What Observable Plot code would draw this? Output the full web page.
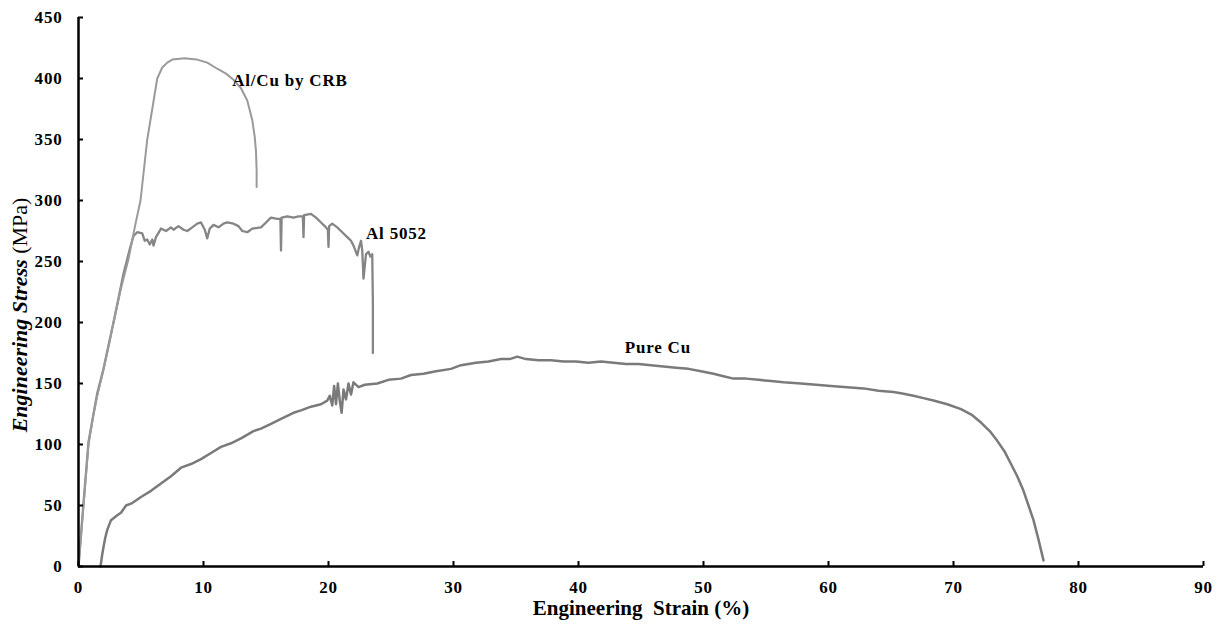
<!DOCTYPE html>
<html><head><meta charset="utf-8">
<script src="https://cdn.jsdelivr.net/npm/d3@7"></script>
<script src="https://cdn.jsdelivr.net/npm/@observablehq/plot@0.6"></script>
<style>body{margin:0;background:#fff}</style>
</head><body><div id="chart"></div>
<script>
// [strain %, stress MPa]
const alCu = [[0,0],[0.4,50],[0.8,100],[1.2,125],[1.5,140],[1.9,157],[2.4,180],[2.8,200],[3.4,228],[4.0,252],[4.5,278],[4.96,300],[5.5,350],[5.9,375],[6.3,400],[6.7,409],[7.1,413],[7.5,415.5],[7.9,416],[8.5,416.5],[9.0,416],[9.5,415.5],[10.3,413],[11.1,408],[11.8,404],[12.4,399],[13.0,392],[13.5,382],[13.9,366],[14.1,352],[14.2,340],[14.25,325],[14.25,311]];
const al5052 = [[0,0],[0.4,52],[0.8,102],[1.5,142],[2.0,162],[2.9,205],[3.6,240],[4.1,260],[4.4,271],[4.7,274],[5.1,273],[5.3,267],[5.5,268],[5.7,264],[5.9,268],[6.0,263],[6.2,270],[6.6,277],[7.0,275],[7.4,278],[7.6,276],[8.0,279],[8.4,276],[8.7,275],[9.1,278],[9.5,281],[9.8,282],[10.1,276],[10.3,269],[10.5,277],[10.8,280],[11.2,278],[11.6,281],[11.9,282],[12.4,281],[12.8,279],[13.1,275],[13.5,274],[13.9,277],[14.6,278],[15.0,282],[15.4,286],[15.9,285],[16.15,285],[16.2,259],[16.25,286],[16.7,287],[17.2,286],[17.6,287],[17.95,287],[18.0,270],[18.05,288],[18.6,289],[19.0,286],[19.4,282],[19.7,279],[19.95,276],[20.0,262],[20.05,279],[20.3,281],[20.7,278],[21.1,274],[21.5,270],[21.8,267],[22.0,263],[22.3,255],[22.45,262],[22.6,267],[22.7,259],[22.8,236],[22.9,246],[23.0,256],[23.2,258],[23.35,254],[23.5,256],[23.55,215],[23.55,175]];
const pureCu = [[1.76,0],[1.9,10],[2.0,16],[2.15,24],[2.3,30],[2.6,38],[3.1,42],[3.4,44],[3.8,50],[4.3,52],[5.0,57],[5.8,62],[6.6,68],[7.4,74],[8.2,81],[9.0,84],[9.8,88],[10.6,93],[11.4,98],[12.2,101],[13.0,105],[14.0,111],[14.6,113],[15.4,117],[16.2,121],[17.2,126],[17.8,128],[18.6,131],[19.4,133],[19.9,136],[20.1,140],[20.3,132],[20.45,148],[20.6,133],[20.75,150],[20.9,136],[21.05,126],[21.2,145],[21.4,137],[21.6,150],[21.8,141],[22.0,151],[22.4,147],[22.9,149],[23.9,150],[24.8,153],[25.8,154],[26.6,157],[27.6,158],[28.6,160],[29.8,162],[30.6,165],[31.8,167],[32.8,168],[33.8,170],[34.5,170],[35.1,172],[35.8,170],[36.8,169],[37.8,169],[38.8,168],[39.8,168],[40.8,167],[41.8,168],[42.8,167],[43.8,166],[44.8,166],[45.8,165],[46.8,164],[47.8,163],[48.8,162],[49.8,160],[50.8,158],[51.6,156],[52.4,154],[53.4,154],[54.4,153],[55.4,152],[56.4,151],[57.8,150],[59.0,149],[60.2,148],[61.5,147],[62.8,146],[64.0,144],[65.2,143],[65.8,142],[66.8,140],[67.6,138],[68.4,136],[69.5,133],[70.6,129],[71.5,124],[72.2,118],[72.9,111],[73.5,103],[74.1,94],[74.6,84],[75.1,74],[75.6,62],[76.0,50],[76.4,38],[76.8,22],[77.2,5]];
const xTicks = [0,10,20,30,40,50,60,70,80,90];
const yTicks = [0,50,100,150,200,250,300,350,400,450];
const curveLabels = [
  {x: 12.3, y: 398, text: "Al/Cu by CRB"},
  {x: 23.0, y: 273, text: "Al 5052"},
  {x: 43.7, y: 179.5, text: "Pure Cu"}
];

const W = 1218, H = 628, mL = 78, mR = 15, mT = 17, mB = 62;
const pw = W - mL - mR, ph = H - mT - mB;
const serif = "'Liberation Serif', 'Times New Roman', serif";

const chart = Plot.plot({
  width: W, height: H,
  marginLeft: mL, marginRight: mR, marginTop: mT, marginBottom: mB,
  style: {fontFamily: serif, color: "black", background: "white"},
  x: {domain: [0, 90]},
  y: {domain: [0, 450]},
  marks: [
    Plot.axisX(xTicks, {tickSize: 0, tickPadding: 14, fontSize: 17, fontWeight: "bold", label: null}),
    Plot.axisY(yTicks, {tickSize: 0, tickPadding: 16, fontSize: 17, fontWeight: "bold", label: null}),
    Plot.line(pureCu, {x: d => d[0], y: d => d[1], stroke: "#7a7a7a", strokeWidth: 2.5}),
    Plot.line(al5052, {x: d => d[0], y: d => d[1], stroke: "#858585", strokeWidth: 2.3}),
    Plot.line(alCu, {x: d => d[0], y: d => d[1], stroke: "#9a9a9a", strokeWidth: 2}),
    Plot.tickX(xTicks, {x: d => d, insetTop: ph - 5, stroke: "black", strokeWidth: 2}),
    Plot.tickY(yTicks, {y: d => d, insetRight: pw - 5, stroke: "black", strokeWidth: 2}),
    Plot.ruleX([0], {stroke: "black", strokeWidth: 2.5}),
    Plot.ruleY([0], {stroke: "black", strokeWidth: 2.5}),
    Plot.text(curveLabels, {x: "x", y: "y", text: "text", textAnchor: "start", fontSize: 17, fontWeight: "bold", fill: "black"}),
    Plot.text(["Engineering\u00a0 Strain (%)"], {frameAnchor: "bottom", dy: 48, fontSize: 21, fontWeight: "bold", fill: "black"})
  ]
});

const svg = d3.select(chart);
svg.selectAll("[aria-label='x-axis tick label'] text, [aria-label='y-axis tick label'] text, [aria-label='text'] text")
  .filter(function() { return !this.textContent.startsWith("Engineering"); })
  .style("letter-spacing", "0.8px");
const t = svg.append("text")
  .attr("transform", `translate(27,315) rotate(-90)`)
  .attr("text-anchor", "middle")
  .attr("font-family", serif)
  .attr("font-size", 22)
  .attr("fill", "black");
t.append("tspan").attr("font-weight", "bold").attr("font-style", "italic").text("Engineering Stress ");
t.append("tspan").text("(MPa)");

document.getElementById("chart").appendChild(chart);
</script>
</body></html>
